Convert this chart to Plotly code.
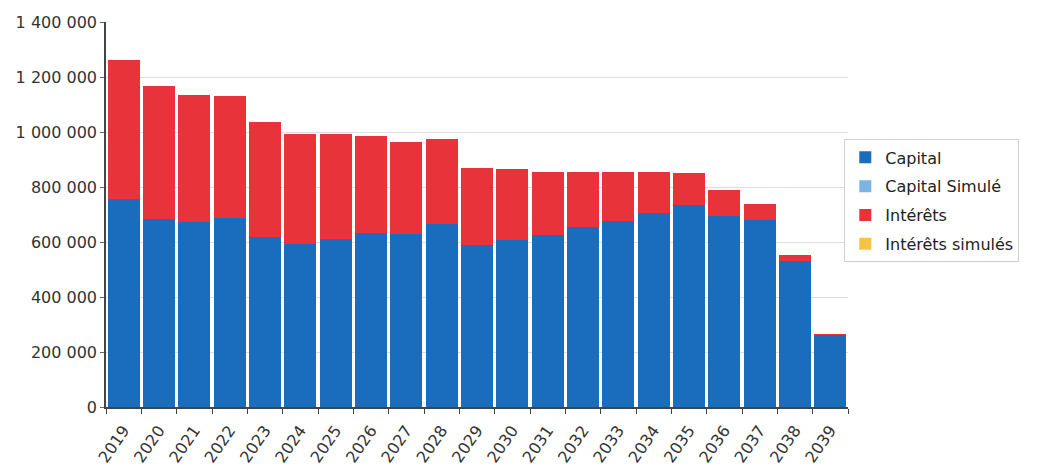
import plotly.graph_objects as go

years = [str(y) for y in range(2019, 2040)]
capital = [758000, 683000, 671000, 688000, 617000, 594000, 611000, 632000, 630000, 666000,
           588000, 608000, 625000, 653000, 678000, 706000, 734000, 696000, 680000, 532000, 263000]
interets = [505000, 484000, 462000, 444000, 421000, 399000, 381000, 355000, 334000, 308000,
            282000, 257000, 231000, 202000, 176000, 147000, 117000, 92000, 59000, 22000, 2000]
capital_simule = [None] * len(years)
interets_simules = [None] * len(years)

fig = go.Figure()
fig.add_trace(go.Bar(name="Capital", x=years, y=capital, marker_color="#1a6dbd",
                     marker_line_width=0, legendgroup="a"))
fig.add_trace(go.Bar(name="Capital Simulé", x=years, y=capital_simule, marker_color="#7ab4e3",
                     marker_line_width=0, legendgroup="b"))
fig.add_trace(go.Bar(name="Intérêts", x=years, y=interets, marker_color="#e8333b",
                     marker_line_width=0, legendgroup="c"))
fig.add_trace(go.Bar(name="Intérêts simulés", x=years, y=interets_simules, marker_color="#f7c245",
                     marker_line_width=0, legendgroup="d"))

fig.update_layout(
    barmode="stack",
    bargap=0.1,
    width=1061, height=468,
    margin=dict(l=106, r=213, t=22, b=61),
    paper_bgcolor="white", plot_bgcolor="white",
    separators=". ",
    font=dict(family="DejaVu Sans, Liberation Sans, sans-serif", size=16, color="#333333"),
    legend=dict(x=0.995, y=0.695, xanchor="left", yanchor="top",
                bordercolor="#d0d0d0", borderwidth=1, bgcolor="white",
                font=dict(size=16, color="#222222"), tracegroupgap=5,
                traceorder="grouped", itemsizing="constant"),
    showlegend=True,
)
fig.update_yaxes(range=[0, 1400000], dtick=200000, tickformat=",d", automargin=False,
                 showgrid=True, gridcolor="#dddddd", gridwidth=1,
                 showline=True, linecolor="#444444", linewidth=1.5,
                 ticks="outside", ticklen=4, tickcolor="#666666",
                 tickfont=dict(size=16, color="#333333"), zeroline=False)
fig.update_xaxes(showline=True, linecolor="#444444", linewidth=1.5, automargin=False,
                 ticks="outside", ticklen=5, tickcolor="#444444", tickson="boundaries",
                 tickangle=-55, ticklabelstandoff=6,
                 tickfont=dict(size=16, color="#333333"), showgrid=False)

fig.write_html("out.html")
